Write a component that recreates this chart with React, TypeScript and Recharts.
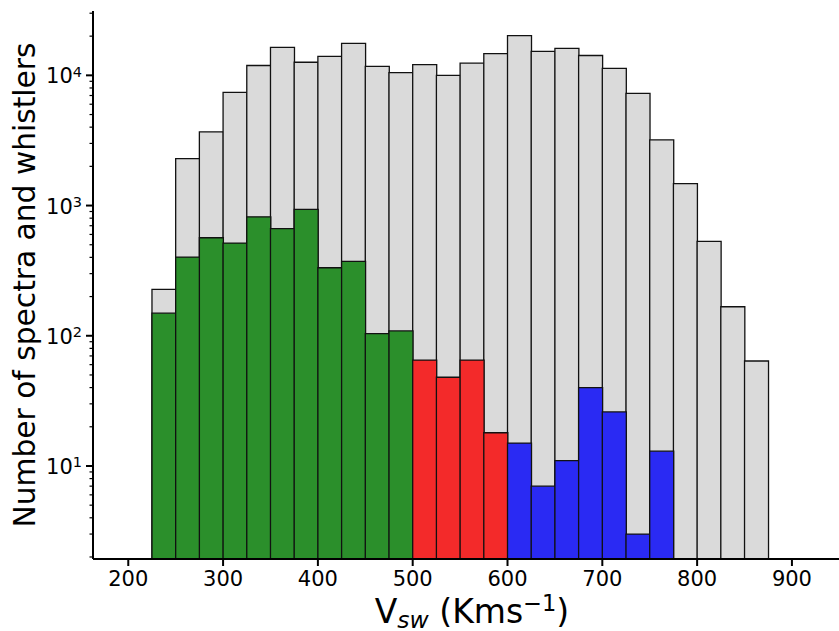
import React from 'react';
import { BarChart, Bar, XAxis, YAxis, Cell, Label } from 'recharts';

// histogram bins, 25 km/s wide, left edges
const binStarts = [
  225, 250, 275, 300, 325, 350, 375, 400, 425, 450, 475, 500, 525,
  550, 575, 600, 625, 650, 675, 700, 725, 750, 775, 800, 825, 850,
];
const binWidth = 25;

// all spectra per bin
const spectraCounts = [
  227, 2290, 3680, 7400, 11900, 16400, 12600, 14000, 17600, 11700, 10500, 12100, 10000,
  12400, 14700, 20200, 15300, 16100, 14200, 11300, 7280, 3200, 1475, 531, 167, 64,
];

// whistlers per bin (none above 775)
const whistlerCounts = [
  149, 402, 566, 515, 820, 664, 935, 333, 373, 104, 109, 65, 48,
  65, 18, 15, 7, 11, 40, 26, 3, 13, null, null, null, null,
];

const xTicks = [200, 300, 400, 500, 600, 700, 800, 900];
const yMajorTicks = [10, 100, 1000, 10000];
const yMinorTicks = [
  2, 3, 4, 5, 6, 7, 8, 9,
  20, 30, 40, 50, 60, 70, 80, 90,
  200, 300, 400, 500, 600, 700, 800, 900,
  2000, 3000, 4000, 5000, 6000, 7000, 8000, 9000,
  20000, 30000,
];

const FONT = 'DejaVu Sans';

const bandColor = (v: number) => {
  if (v < 500) return '#2b8f2b';
  if (v < 600) return '#f32a2a';
  return '#2a2af3';
};

const data = binStarts.map((s, i) => ({
  v: s + binWidth / 2,
  start: s,
  spectra: spectraCounts[i],
  whistlers: whistlerCounts[i],
}));

const LogTick = (props: any) => {
  const { x, y, payload } = props;
  const val = payload.value;
  const exp = Math.round(Math.log10(val));
  const major = Math.abs(Math.log10(val) - exp) < 1e-6;
  return (
    <g>
      <line
        x1={x - (major ? 7 : 3.5)}
        x2={x}
        y1={y}
        y2={y}
        stroke="#000"
        strokeWidth={major ? 2 : 1.2}
      />
      {major && (
        <text x={x - 11} y={y + 8} textAnchor="end" fontFamily={FONT} fontSize={21} fill="#000">
          10
          <tspan dy={-6.5} fontSize={14.5}>
            {exp}
          </tspan>
        </text>
      )}
    </g>
  );
};

const YLabel = (props: any) => {
  const vb = props.viewBox;
  const cy = vb.y + vb.height / 2;
  const bx = 35;
  return (
    <text
      x={bx}
      y={cy}
      transform={`rotate(-90, ${bx}, ${cy})`}
      textAnchor="middle"
      fontFamily={FONT}
      fontSize={29.7}
      fill="#000"
    >
      Number of spectra and whistlers
    </text>
  );
};

const XLabel = (props: any) => {
  const vb = props.viewBox;
  const cx = vb.x + vb.width / 2;
  return (
    <text x={cx} y={623} textAnchor="middle" fontFamily={FONT} fontSize={33} fill="#000">
      V
      <tspan dy={5} fontSize={23.5} fontStyle="italic">
        sw
      </tspan>
      <tspan dy={-5}> (Kms</tspan>
      <tspan dy={-12.5} fontSize={22.5}>
        −1
      </tspan>
      <tspan dy={12.5}>)</tspan>
    </text>
  );
};

export default function App() {
  return (
    <div
      style={{
        position: 'absolute',
        left: 0,
        top: 0,
        width: 839,
        height: 631,
        overflow: 'hidden',
        background: '#fff',
      }}
    >
      <BarChart
        width={851}
        height={631}
        data={data}
        margin={{ top: 11, right: 0, bottom: 0, left: 0 }}
        barCategoryGap={0}
        barGap={0}
      >
        <XAxis
          xAxisId="bottom"
          dataKey="v"
          type="number"
          domain={[162.8, 962.3]}
          allowDataOverflow
          ticks={xTicks}
          interval={0}
          height={72}
          tickSize={7}
          tickMargin={5}
          axisLine={{ stroke: '#000', strokeWidth: 2 }}
          tickLine={{ stroke: '#000', strokeWidth: 2 }}
          tick={{ fontFamily: FONT, fontSize: 21, fill: '#000' }}
        >
          <Label content={XLabel} />
        </XAxis>
        <XAxis
          xAxisId="top"
          dataKey="v"
          type="number"
          orientation="top"
          domain={[162.8, 962.3]}
          allowDataOverflow
          height={0}
          tick={false}
          tickLine={false}
          axisLine={{ stroke: '#000', strokeWidth: 2 }}
        />
        <YAxis
          scale="log"
          type="number"
          domain={[1.93, 31200]}
          allowDataOverflow
          ticks={[...yMajorTicks, ...yMinorTicks]}
          interval={0}
          width={93}
          tickSize={0}
          tickMargin={0}
          tickLine={false}
          axisLine={{ stroke: '#000', strokeWidth: 2 }}
          tick={LogTick}
        >
          <Label content={YLabel} />
        </YAxis>
        <Bar
          xAxisId="bottom"
          dataKey="spectra"
          fill="#dadada"
          stroke="#111"
          strokeWidth={1.3}
          isAnimationActive={false}
        />
        <Bar
          xAxisId="top"
          dataKey="whistlers"
          stroke="#111"
          strokeWidth={1.3}
          isAnimationActive={false}
        >
          {data.map((d) => (
            <Cell key={d.start} fill={bandColor(d.start)} />
          ))}
        </Bar>
      </BarChart>
    </div>
  );
}
